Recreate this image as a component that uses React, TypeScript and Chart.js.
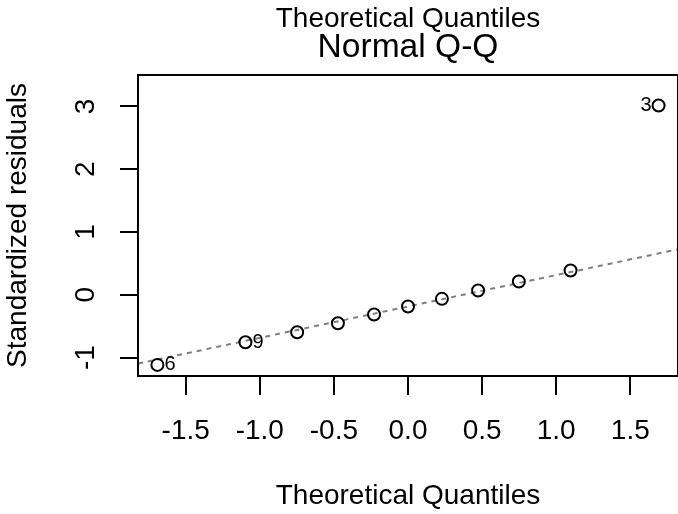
import React, { useEffect, useRef } from "react";
import { Chart, registerables } from "chart.js";

Chart.register(...registerables);

// ---- data ----
const theoreticalQuantiles = [-1.691, -1.097, -0.748, -0.473, -0.229, 0, 0.229, 0.473, 0.748, 1.097, 1.691];
const standardizedResiduals = [-1.116, -0.755, -0.596, -0.453, -0.314, -0.186, -0.064, 0.068, 0.212, 0.387, 3.017];
const pointIds = ["6", "9", "", "", "", "", "", "", "", "", "3"];
const qqLineX = [-1.822, 1.822];
const qqLineY = [-1.096, 0.725];
const xTickValues = [-1.5, -1, -0.5, 0, 0.5, 1, 1.5];
const xTickLabels = ["-1.5", "-1.0", "-0.5", "0.0", "0.5", "1.0", "1.5"];
const yTickValues = [-1, 0, 1, 2, 3];
const yTickLabels = ["-1", "0", "1", "2", "3"];
const xRange = [-1.822, 1.822];
const yRange = [-1.293, 3.502];

const FONT = "'Liberation Sans', Arial, Helvetica, sans-serif";

const boxPlugin = {
  id: "rbox",
  afterDatasetsDraw(chart: any) {
    const { ctx, chartArea } = chart;
    ctx.save();
    ctx.strokeStyle = "#000";
    ctx.lineWidth = 2;
    ctx.strokeRect(chartArea.left, chartArea.top, chartArea.right - chartArea.left, chartArea.bottom - chartArea.top);
    ctx.restore();
  },
};

const idPlugin = {
  id: "pointIds",
  afterDatasetsDraw(chart: any) {
    const { ctx } = chart;
    const meta = chart.getDatasetMeta(0);
    ctx.save();
    ctx.fillStyle = "#000";
    ctx.font = `20px ${FONT}`;
    ctx.textBaseline = "middle";
    meta.data.forEach((el: any, i: number) => {
      const id = pointIds[i];
      if (!id) return;
      const right = theoreticalQuantiles[i] > 0;
      ctx.textAlign = right ? "right" : "left";
      ctx.fillText(id, el.x + (right ? -7 : 7), el.y);
    });
    ctx.restore();
  },
};

export default function App() {
  const ref = useRef<HTMLCanvasElement | null>(null);
  useEffect(() => {
    if (!ref.current) return;
    const chart = new Chart(ref.current, {
      type: "scatter",
      data: {
        datasets: [
          {
            type: "scatter",
            data: theoreticalQuantiles.map((x, i) => ({ x, y: standardizedResiduals[i] })),
            pointRadius: 6,
            pointHoverRadius: 6,
            pointBorderWidth: 2,
            pointBorderColor: "#000",
            pointBackgroundColor: "rgba(0,0,0,0)",
          },
          {
            type: "line",
            data: qqLineX.map((x, i) => ({ x, y: qqLineY[i] })),
            borderColor: "#7f7f7f",
            borderWidth: 2,
            borderDash: [5, 5],
            pointRadius: 0,
            fill: false,
          },
        ],
      } as any,
      options: {
        responsive: false,
        animation: false,
        devicePixelRatio: 1,
        layout: { padding: 0, autoPadding: false },
        plugins: {
          legend: { display: false },
          tooltip: { enabled: false },
          title: {
            display: true,
            fullSize: false,
            text: "Theoretical Quantiles",
            color: "#000",
            font: { family: FONT, size: 28, weight: "normal", lineHeight: 0.8 },
            padding: { top: 7.6, bottom: 0 },
          },
          subtitle: {
            display: true,
            fullSize: false,
            text: "Normal Q-Q",
            color: "#000",
            font: { family: FONT, size: 33.6, weight: "normal", lineHeight: 0.8 },
            padding: { top: 4.6, bottom: 13.5 },
          },
        },
        scales: {
          x: {
            type: "linear",
            min: xRange[0],
            max: xRange[1],
            afterBuildTicks: (s: any) => {
              s.ticks = xTickValues.map((v) => ({ value: v }));
            },
            afterFit: (s: any) => {
              s.height = 138;
              s.paddingLeft = 0;
              s.paddingRight = 0;
            },
            ticks: {
              autoSkip: false,
              color: "#000",
              padding: 19,
              maxRotation: 0,
              font: { family: FONT, size: 28 },
              callback: (v: any) => {
                const i = xTickValues.indexOf(Number(v));
                return i >= 0 ? xTickLabels[i] : "";
              },
            },
            grid: { drawOnChartArea: false, color: "#000", lineWidth: 2, tickLength: 19 },
            border: { display: false },
            title: {
              display: true,
              text: "Theoretical Quantiles",
              color: "#000",
              font: { family: FONT, size: 28 },
              padding: { top: 0, bottom: 0.8 },
            },
          },
          y: {
            type: "linear",
            min: yRange[0],
            max: yRange[1],
            afterBuildTicks: (s: any) => {
              s.ticks = yTickValues.map((v) => ({ value: v }));
            },
            afterFit: (s: any) => {
              s.width = 138;
              s.paddingTop = 0;
              s.paddingBottom = 0;
            },
            ticks: {
              autoSkip: false,
              color: "#000",
              padding: 20.85,
              minRotation: 90,
              maxRotation: 90,
              crossAlign: "center",
              font: { family: FONT, size: 28 },
              callback: (v: any) => {
                const i = yTickValues.indexOf(Number(v));
                return i >= 0 ? yTickLabels[i] : "";
              },
            },
            grid: { drawOnChartArea: false, color: "#000", lineWidth: 2, tickLength: 18 },
            border: { display: false },
            title: {
              display: true,
              text: "Standardized residuals",
              color: "#000",
              font: { family: FONT, size: 28 },
              padding: { top: 1.7, bottom: 0 },
            },
          },
        },
      } as any,
      plugins: [boxPlugin, idPlugin],
    });
    return () => chart.destroy();
  }, []);

  return (
    <div style={{ position: "absolute", left: 0, top: 0, width: 678, height: 514, background: "#fff" }}>
      <canvas ref={ref} width={678} height={514} style={{ display: "block" }} />
    </div>
  );
}
